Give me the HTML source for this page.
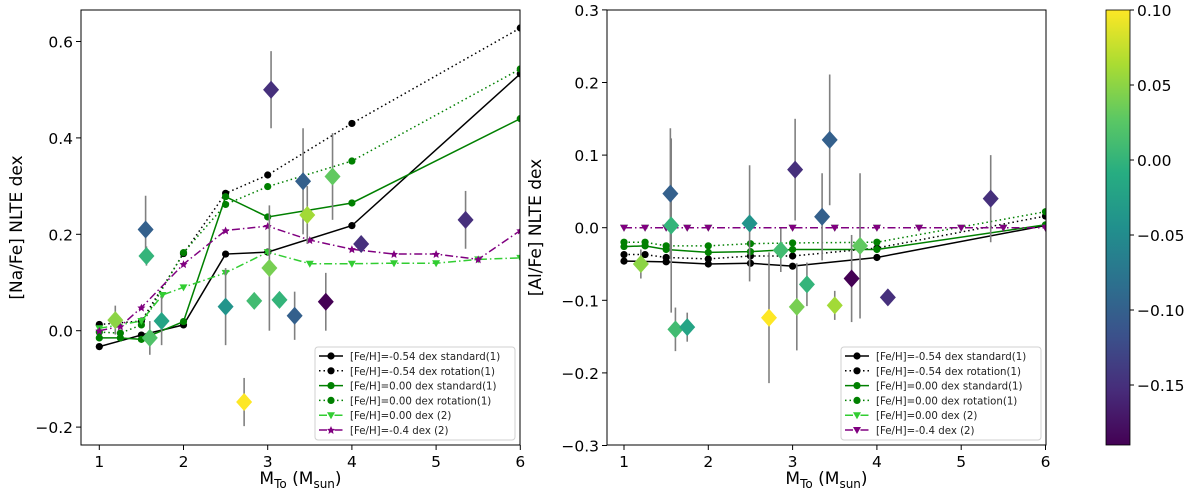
<!DOCTYPE html>
<html><head><meta charset="utf-8"><style>
html,body{margin:0;padding:0;background:#fff;}
svg{display:block;font-family:"DejaVu Sans","Liberation Sans",sans-serif;}
</style></head><body>
<svg id="fig" width="1200" height="494" viewBox="0 0 1200 494" xmlns="http://www.w3.org/2000/svg">
<defs>
<linearGradient id="vir" x1="0" y1="1" x2="0" y2="0">
<stop offset="0" stop-color="#440154"/><stop offset="0.125" stop-color="#472c7a"/><stop offset="0.25" stop-color="#3b518b"/><stop offset="0.375" stop-color="#2c718e"/><stop offset="0.5" stop-color="#21908d"/><stop offset="0.625" stop-color="#27ad81"/><stop offset="0.75" stop-color="#5cc863"/><stop offset="0.875" stop-color="#aadc32"/><stop offset="1" stop-color="#fde725"/>
</linearGradient>
</defs>
</svg>
<script>
// ---------- data ----------
const modelX = [1, 1.5, 2, 2.5, 3, 4, 6];
const naStd054 = [-0.033, -0.009, 0.012, 0.159, 0.163, 0.218, 0.533];
const naRot054 = [0.013, 0.02, 0.16, 0.285, 0.323, 0.43, 0.628];
const modelX8 = [1, 1.25, 1.5, 2, 2.5, 3, 4, 6];
const naStd000 = [-0.015, -0.015, -0.018, 0.019, 0.278, 0.236, 0.265, 0.44];
const naRot000 = [-0.003, -0.005, 0.012, 0.162, 0.262, 0.299, 0.352, 0.543];
const gridX2 = [1, 1.5, 1.75, 2, 2.5, 3, 3.5, 4, 4.5, 5, 5.5, 6];
const na2Fe000 = [0.005, 0.02, 0.074, 0.09, 0.12, 0.163, 0.139, 0.139, 0.14, 0.14, 0.148, 0.151];
const gridX2b = [1, 1.25, 1.5, 2, 2.5, 3, 3.5, 4, 4.5, 5, 5.5, 6];
const na2Fe04 = [0.0, 0.009, 0.048, 0.138, 0.208, 0.217, 0.188, 0.169, 0.159, 0.159, 0.148, 0.208];

const naStarX = [1.19, 1.55, 1.56, 1.6, 1.74, 2.5, 3.04, 2.72, 2.84, 3.02, 3.14, 3.32, 3.42, 3.47, 3.77, 3.69, 4.11, 5.35];
const naStarY = [0.022, 0.21, 0.155, -0.015, 0.02, 0.05, 0.5, -0.148, 0.062, 0.13, 0.064, 0.031, 0.31, 0.24, 0.32, 0.06, 0.18, 0.23];
const naStarErr = [0.03, 0.07, 0.02, 0.035, 0.05, 0.08, 0.08, 0.05, 0.01, 0.13, 0.01, 0.05, 0.11, 0.06, 0.09, 0.06, 0, 0.06];
const naStarC = [0.05, -0.10, 0.0, 0.02, -0.02, -0.04, -0.15, 0.10, 0.01, 0.04, 0.0, -0.10, -0.10, 0.06, 0.03, -0.19, -0.15, -0.15];

const alStd054 = [-0.046, -0.047, -0.05, -0.049, -0.053, -0.041, 0.003];
const alRot054 = [-0.037, -0.037, -0.041, -0.043, -0.039, -0.039, -0.028, 0.016];
const alStd000 = [-0.026, -0.025, -0.03, -0.034, -0.033, -0.03, -0.03, 0.004];
const alRot000 = [-0.02, -0.02, -0.025, -0.025, -0.022, -0.021, -0.02, 0.022];
const alX2 = [1, 1.25, 1.5, 1.75, 2, 2.5, 3, 3.5, 4, 4.5, 5, 5.5, 6];
const al2Fe000 = [0, 0, 0, 0, 0, 0, 0, 0, 0, 0, 0, 0, 0];
const al2Fe04 = [0, 0, 0, 0, 0, 0, 0, 0, 0, 0, 0, 0, 0];

const alStarX = [1.2, 1.55, 1.56, 1.61, 1.75, 2.49, 2.72, 2.86, 3.03, 3.05, 3.17, 3.35, 3.44, 3.5, 3.7, 3.8, 4.13, 5.35];
const alStarY = [-0.05, 0.047, 0.003, -0.14, -0.137, 0.006, -0.124, -0.031, 0.08, -0.109, -0.078, 0.015, 0.121, -0.107, -0.07, -0.025, -0.096, 0.04];
const alStarErr = [0.02, 0.09, 0.12, 0.03, 0.02, 0.08, 0.09, 0.03, 0.07, 0.06, 0.03, 0.06, 0.09, 0.02, 0.06, 0.1, 0, 0.06];
const alStarC = [0.05, -0.10, 0.0, 0.01, -0.02, -0.04, 0.10, 0.01, -0.15, 0.04, 0.0, -0.10, -0.10, 0.06, -0.19, 0.03, -0.15, -0.15];

const xTicks = [1, 2, 3, 4, 5, 6];
const naTicks = [-0.2, 0.0, 0.2, 0.4, 0.6];
const alTicks = [-0.3, -0.2, -0.1, 0.0, 0.1, 0.2, 0.3];
const cbTicks = [0.10, 0.05, 0.00, -0.05, -0.10, -0.15];
const legendLabels = ["[Fe/H]=-0.54 dex standard(1)", "[Fe/H]=-0.54 dex rotation(1)", "[Fe/H]=0.00 dex standard(1)", "[Fe/H]=0.00 dex rotation(1)", "[Fe/H]=0.00 dex (2)", "[Fe/H]=-0.4 dex (2)"];

// ---------- helpers ----------
const NS = "http://www.w3.org/2000/svg";
const svg = document.getElementById('fig');
function mk(tag, attrs, parent) {
  const e = document.createElementNS(NS, tag);
  for (const k in attrs) e.setAttribute(k, attrs[k]);
  (parent || svg).appendChild(e);
  return e;
}
const vstops = [[68,1,84],[71,44,122],[59,81,139],[44,113,142],[33,144,141],[39,173,129],[92,200,99],[170,220,50],[253,231,37]];
function viridis(v) {
  let t = (v - (-0.19)) / (0.10 - (-0.19));
  t = Math.max(0, Math.min(1, t)) * 8;
  const i = Math.min(7, Math.floor(t)), f = t - i;
  const a = vstops[i], b = vstops[i + 1];
  return 'rgb(' + a.map((c, k) => Math.round(c + (b[k] - c) * f)).join(',') + ')';
}
function fmt(v, d) { const s = Math.abs(v).toFixed(d); return (v < -1e-9 ? '\u2212' : '') + s; }

function panel(cfg) {
  const g = mk('g', {});
  
  
  const X = x => cfg.x0 + (x - 1) * cfg.xs;
  const Y = y => cfg.yZero - y * cfg.ys;
  const L = cfg.left, R = cfg.right, T = 10, B = 445;
  xTicks.forEach(t => {
    mk('line', {x1: X(t), x2: X(t), y1: B, y2: B + 5, stroke: '#000', 'stroke-width': 1}, g);
    const tx = mk('text', {x: X(t), y: B + 22, 'font-size': 15.5, 'text-anchor': 'middle'}, g);
    tx.textContent = t;
    
    
  });
  cfg.yTicks.forEach(t => {
    mk('line', {x1: L - 5, x2: L, y1: Y(t), y2: Y(t), stroke: '#000', 'stroke-width': 1}, g);
    const tx = mk('text', {x: L - 8, y: Y(t) + 6, 'font-size': 15.5, 'text-anchor': 'end'}, g);
    tx.textContent = fmt(t, 1);
    
    
  });
  const clip = 'clip-' + cfg.name;
  const cp = mk('clipPath', {id: clip}, g);
  mk('rect', {x: L, y: T, width: R - L, height: B - T}, cp);
  const pg = mk('g', {'clip-path': 'url(#' + clip + ')'}, g);
  function series(xs, ys, color, dash, marker, name) {
    const sg = mk('g', {}, pg);
    
    
    mk('polyline', {points: xs.map((x, i) => X(x) + ',' + Y(ys[i])).join(' '), fill: 'none', stroke: color, 'stroke-width': 1.5, 'stroke-dasharray': dash}, sg);
    xs.forEach((x, i) => drawMarker(sg, marker, X(x), Y(ys[i]), color));
  }
  cfg.series.forEach(s => series(s[0], s[1], s[2], s[3], s[4], s[5]));
  const st = mk('g', {}, pg);
  
  
  cfg.sx.forEach((x, i) => {
    const cx = X(x);
    if (cfg.se[i] > 0) mk('line', {x1: cx, x2: cx, y1: Y(cfg.sy[i] + cfg.se[i]), y2: Y(cfg.sy[i] - cfg.se[i]), stroke: '#808080', 'stroke-width': 1.6}, st);
  });
  cfg.sx.forEach((x, i) => {
    const cx = X(x), cy = Y(cfg.sy[i]);
    const d = mk('polygon', {points: `${cx},${cy - 9} ${cx + 8},${cy} ${cx},${cy + 9} ${cx - 8},${cy}`, fill: viridis(cfg.sc[i])}, st);
    
    
  });
  mk('rect', {x: L, y: T, width: R - L, height: B - T, fill: 'none', stroke: '#000', 'stroke-width': 1}, g);
  const lg = mk('g', {}, g);
  
  
  const lx = R - 205, ly = 347;
  mk('rect', {x: lx, y: ly, width: 200, height: 93, fill: '#fff', 'fill-opacity': 0.85, stroke: '#d0d0d0', rx: 3}, lg);
  cfg.series.forEach((s, i) => {
    const y = ly + 9 + i * 14.8;
    const e = mk('g', {}, lg);
    
    
    mk('line', {x1: lx + 4, x2: lx + 28, y1: y, y2: y, stroke: s[2], 'stroke-width': 1.5, 'stroke-dasharray': s[3]}, e);
    drawMarker(e, s[4], lx + 16, y, s[2]);
    const t = mk('text', {x: lx + 35, y: y + 4, 'font-size': 10.2, fill: '#222'}, e);
    t.textContent = legendLabels[i];
  });
  const xl = mk('text', {x: (L + R) / 2, y: 484, 'font-size': 17, 'text-anchor': 'middle'}, g);
  xl.innerHTML = 'M<tspan font-size="12" dy="4">To</tspan><tspan dy="-4"> (M</tspan><tspan font-size="12" dy="4">sun</tspan><tspan dy="-4">)</tspan>';
  
  
  const yl = mk('text', {x: 0, y: 0, 'font-size': 17, 'text-anchor': 'middle', transform: `translate(${cfg.ylx},${(T + B) / 2}) rotate(-90)`}, g);
  yl.textContent = cfg.ylabel;
  
  
}
function drawMarker(g, m, x, y, c) {
  if (m === 'o') mk('circle', {cx: x, cy: y, r: 3.6, fill: c}, g);
  else if (m === 'v') mk('polygon', {points: `${x - 4},${y - 3} ${x + 4},${y - 3} ${x},${y + 4}`, fill: c}, g);
  else if (m === '*') mk('polygon', {points: `${x},${y - 4} ${x + 1.2},${y - 1.2} ${x + 4},${y - 1} ${x + 2},${y + 1} ${x + 2.5},${y + 4} ${x},${y + 2.3} ${x - 2.5},${y + 4} ${x - 2},${y + 1} ${x - 4},${y - 1} ${x - 1.2},${y - 1.2}`, fill: c}, g);
}

panel({name: 'na-panel', left: 81, right: 520, x0: 99.3, xs: 84.2, yZero: 330.7, ys: 482,
  yTicks: naTicks, ylabel: '[Na/Fe] NLTE dex', ylx: 22,
  series: [[modelX, naStd054, '#000', 'none', 'o', 'na-std-054'], [modelX, naRot054, '#000', '1.5,3', 'o', 'na-rot-054'],
    [modelX8, naStd000, 'green', 'none', 'o', 'na-std-000'], [modelX8, naRot000, 'green', '1.5,3', 'o', 'na-rot-000'],
    [gridX2, na2Fe000, '#32cd32', '8,3,1.5,3', 'v', 'na-2-000'], [gridX2b, na2Fe04, 'purple', '8,3,1.5,3', '*', 'na-2-04']],
  sx: naStarX, sy: naStarY, se: naStarErr, sc: naStarC});
panel({name: 'al-panel', left: 607, right: 1046, x0: 624, xs: 84.3, yZero: 227.7, ys: 726,
  yTicks: alTicks, ylabel: '[Al/Fe] NLTE dex', ylx: 541,
  series: [[modelX, alStd054, '#000', 'none', 'o', 'al-std-054'], [modelX8, alRot054, '#000', '1.5,3', 'o', 'al-rot-054'],
    [modelX8, alStd000, 'green', 'none', 'o', 'al-std-000'], [modelX8, alRot000, 'green', '1.5,3', 'o', 'al-rot-000'],
    [alX2, al2Fe000, '#32cd32', '8,3,1.5,3', 'v', 'al-2-000'], [alX2, al2Fe04, 'purple', '8,3,1.5,3', 'v', 'al-2-04']],
  sx: alStarX, sy: alStarY, se: alStarErr, sc: alStarC});

const cb = mk('g', {});


mk('rect', {x: 1106, y: 10, width: 24, height: 435, fill: 'url(#vir)', stroke: '#000', 'stroke-width': 0.8}, cb);
cbTicks.forEach(t => {
  const y = 10 + (0.10 - t) / 0.05 * 75;
  mk('line', {x1: 1130, x2: 1134, y1: y, y2: y, stroke: '#000'}, cb);
  const tx = mk('text', {x: 1137, y: y + 6, 'font-size': 15.5}, cb);
  tx.textContent = fmt(t, 2);
  
  
});
</script>
</body></html>
